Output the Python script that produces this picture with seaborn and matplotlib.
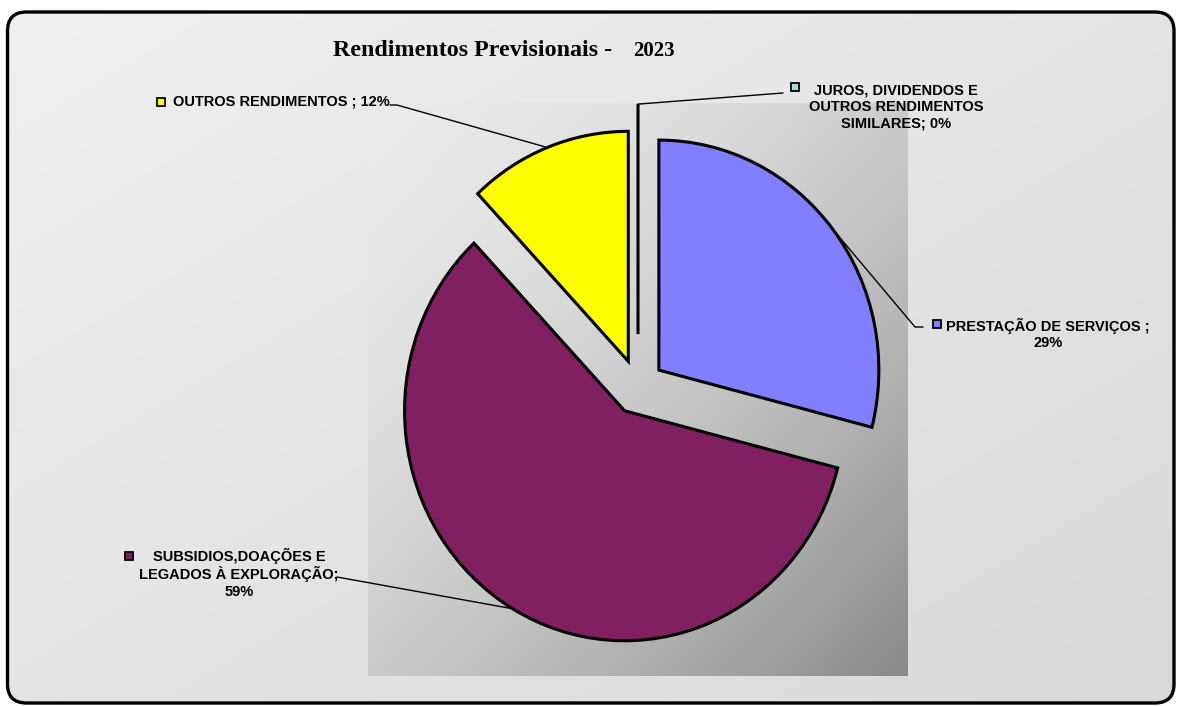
import numpy as np
import matplotlib.pyplot as plt
import seaborn as sns
from matplotlib.patches import FancyBboxPatch, Rectangle

sns.set_theme(style="white")
plt.rcParams['font.family'] = ['Liberation Sans', 'DejaVu Sans']

# data
categories = ['JUROS, DIVIDENDOS E OUTROS RENDIMENTOS SIMILARES',
              'PRESTAÇÃO DE SERVIÇOS',
              'SUBSIDIOS,DOAÇÕES E LEGADOS À EXPLORAÇÃO',
              'OUTROS RENDIMENTOS']
values = [0, 29, 59, 12]
label_templates = ['JUROS, DIVIDENDOS E\nOUTROS RENDIMENTOS\nSIMILARES; {}%',
                   'PRESTAÇÃO DE SERVIÇOS ;\n{}%',
                   'SUBSIDIOS,DOAÇÕES E\nLEGADOS À EXPLORAÇÃO;\n{}%',
                   'OUTROS RENDIMENTOS ; {}%']
title_main = 'Rendimentos Previsionais -'
title_year = '2023'

colors = sns.color_palette(['#a6dede', '#8080ff', '#802060', '#ffff00'])
explode = [0.23, 0.12, 0.12, 0.12]

W, H = 1179, 706
CX, CY = 638, 387      # pie centre in pixels
RX, RY = 220, 230      # pie radius in pixels (slightly elliptical)

fig = plt.figure(figsize=(W / 100, H / 100), dpi=100)
fig.patch.set_facecolor('white')

#%% background, frame and plot area
bg = fig.add_axes([0, 0, 1, 1])
bg.axis('off')

frame = FancyBboxPatch((7.5, 12), 1174 - 7.5, 703 - 12,
                       boxstyle='round,pad=0,rounding_size=19',
                       fc='none', ec='black', lw=2.4, zorder=5)
bg.add_patch(frame)

u = np.linspace(0, 1, 200)
uu, vv = np.meshgrid(u, u)
t = (uu + vv) / 2
g1 = (240 - 23 * t) / 255
img1 = np.dstack([g1, g1, g1])
im = bg.imshow(img1, extent=(7.5, 1174, 703, 12), aspect='auto', zorder=0)
im.set_clip_path(frame)

g2 = (235 - 97 * t ** 1.6) / 255
img2 = np.dstack([g2, g2, g2])
bg.imshow(img2, extent=(368, 908, 676, 103), aspect='auto', zorder=1)

bg.set_xlim(0, W)
bg.set_ylim(H, 0)

#%% pie
ax = fig.add_axes([0, 0, 1, 1])
wedges, _ = ax.pie(values, colors=colors, startangle=90, counterclock=False,
                   explode=explode, radius=1,
                   wedgeprops=dict(edgecolor='black', linewidth=2.2))
ax.set_aspect('auto')
ax.set_xlim(-CX / RX, (W - CX) / RX)
ax.set_ylim(-(H - CY) / RY, CY / RY)
ax.axis('off')
ax.patch.set_visible(False)

#%% labels, markers and leader lines
total = sum(values)
text_pos = [(896, 107, 'center'), (1048, 334, 'center'),
            (239, 573, 'center'), (173, 102, 'left')]
marker_pos = [(791, 83), (933, 320), (125, 552), (157, 98)]
elbows = [[(783, 93)], [(923, 327), (915, 327)],
          [(337, 577)], [(390, 105), (397, 105)]]

for w, tmpl, v, c, (tx, ty, ha), (mx, my), pts in zip(
        wedges, label_templates, values, colors, text_pos, marker_pos, elbows):
    pct = int(round(v / total * 100))
    bg.text(tx, ty, tmpl.format(pct), ha=ha, va='center', multialignment='center',
            fontsize=10.5, fontweight='bold', color='black', zorder=6)
    bg.add_patch(Rectangle((mx, my), 8, 8, fc=c, ec='black', lw=1.3, zorder=6))
    mid = np.deg2rad((w.theta1 + w.theta2) / 2)
    axp = w.center[0] + w.r * np.cos(mid)
    ayp = w.center[1] + w.r * np.sin(mid)
    px = CX + RX * axp
    py = CY - RY * ayp
    xs = [p[0] for p in pts] + [px]
    ys = [p[1] for p in pts] + [py]
    bg.plot(xs, ys, color='black', lw=1.0, zorder=4)

bg.text(333, 56, title_main, family='Liberation Serif', fontweight='bold',
        fontsize=17.3, va='baseline', ha='left', color='black', zorder=6)
bg.text(633, 56, title_year, family='Liberation Serif', fontweight='bold',
        fontsize=15, va='baseline', ha='left', color='black', zorder=6)

fig.savefig('out.png', dpi=100)
